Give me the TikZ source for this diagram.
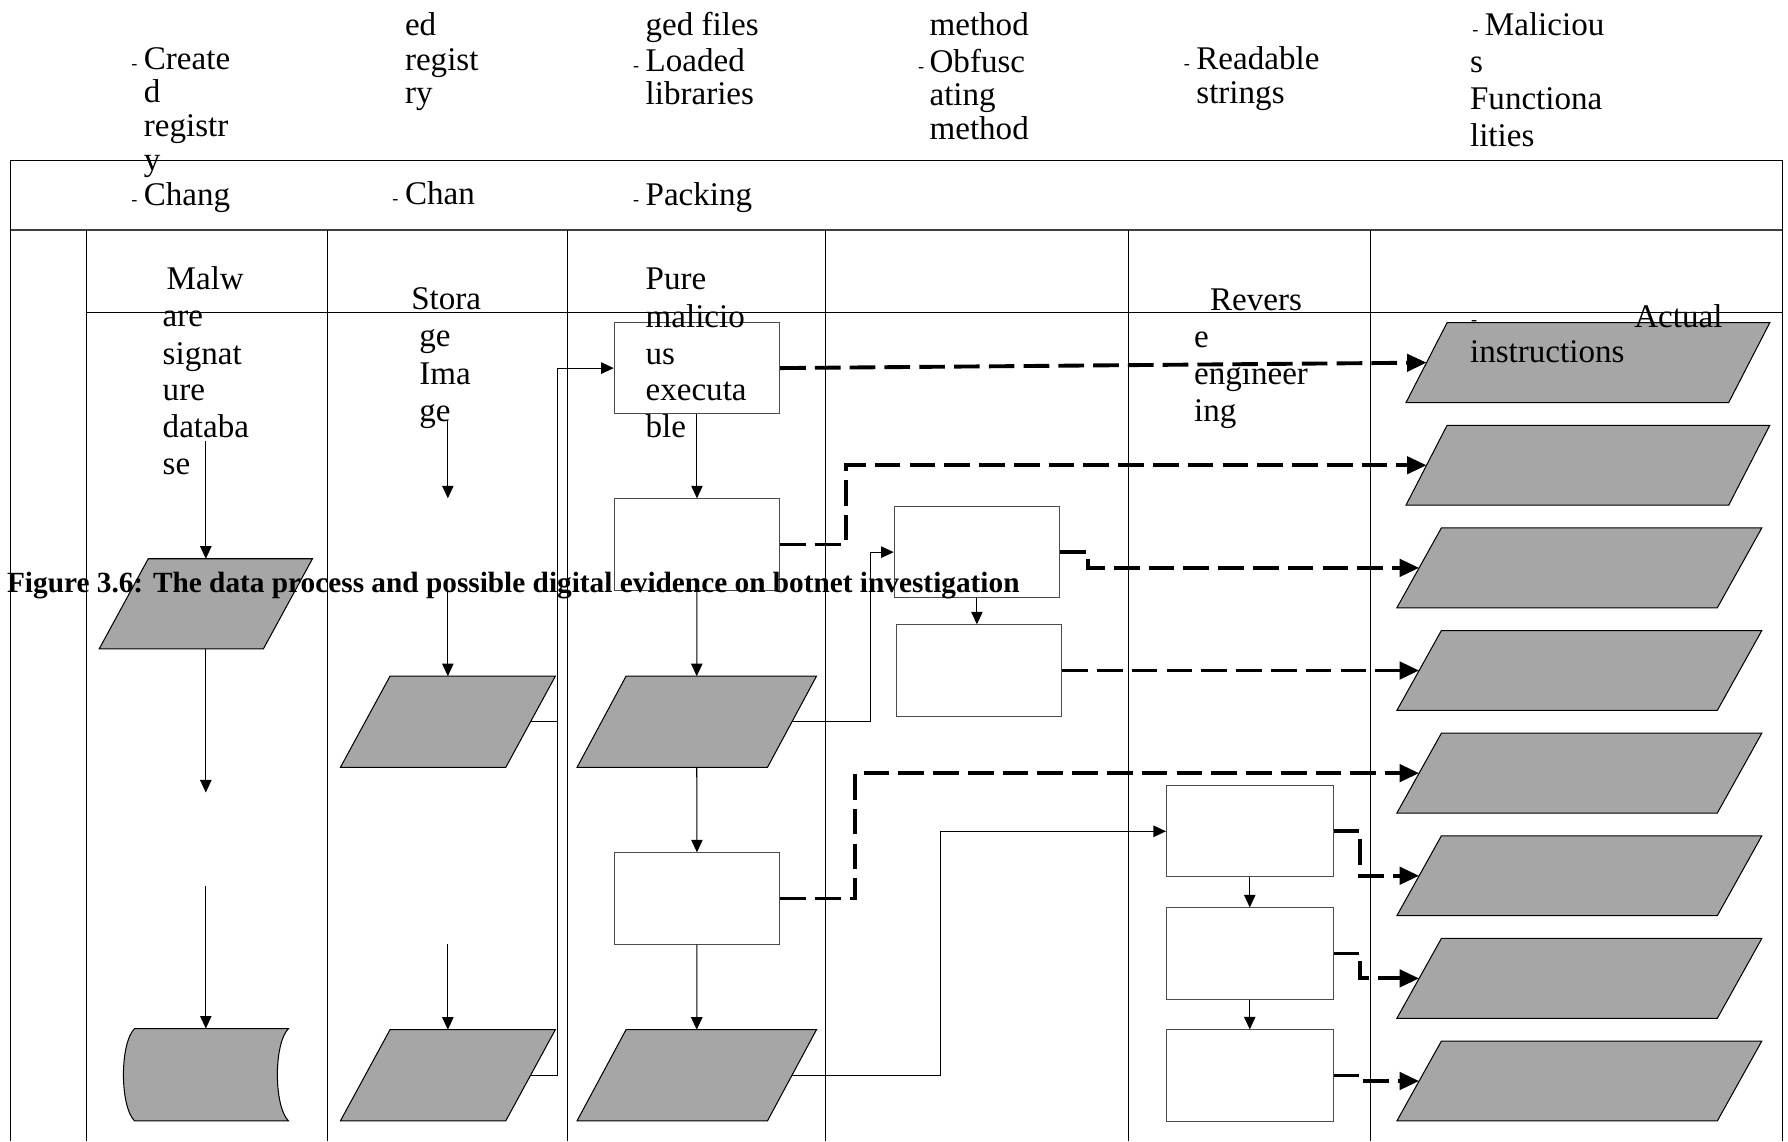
\documentclass[tikz,border=0pt]{standalone}
\usepackage{fontspec}
\setmainfont{Liberation Serif}
\usetikzlibrary{arrows.meta}
\newcommand\drawpara[6]{% name, x top-left, y top, width, slant offset, height
  \filldraw[parafill] (#2,#3) -- ++(#4,0) -- ++(-#5,#6) -- ++(-#4,0) -- cycle;
  \coordinate (#1-w) at ({#2-#5/2},{#3+#6/2});
  \coordinate (#1-e) at ({#2+#4-#5/2},{#3+#6/2});
  \coordinate (#1-n) at ({#2+#4/2-#5/2},#3);
  \coordinate (#1-s) at ({#2+#4/2-#5/2},{#3+#6});
}
\begin{document}
\begin{tikzpicture}[x=1pt,y=-1pt,
  frame/.style={line width=0.9pt, draw=black},
  boxnode/.style={draw=black!70, line width=0.9pt, minimum width=145pt, minimum height=80pt, inner sep=0pt},
  parafill/.style={fill=black!35, draw=black, line width=0.9pt},
  conn/.style={line width=0.9pt, -{Triangle[length=11pt,width=10pt]}},
  plain/.style={line width=0.9pt},
  dsh/.style={line width=3.4pt, dash pattern=on 22.5pt off 8pt, -{Triangle[length=17pt,width=15pt]}},
  lbl/.style={anchor=base west, inner sep=0pt, yshift=-2.5pt, font=\fontsize{29}{32}\selectfont},
  blt/.style={anchor=base west, inner sep=0pt, yshift=-2.5pt, font=\fontsize{16}{16}\selectfont},
  captxt/.style={anchor=base west, inner sep=0pt, yshift=-1pt, font=\bfseries\fontsize{25.7}{28}\selectfont}]
\useasboundingbox (0,0) rectangle (1568,1001);

% frame and lanes
\draw[frame] (9,141) rectangle (1563,201);
\draw[line width=1.6pt, draw=black!75] (9,201.5) -- (1563,201.5);
\draw[frame] (9,201) -- (9,1001);
\draw[frame] (1563,201) -- (1563,1001);
\foreach \lx in {75.5,287.5,498,723.5,990,1202}
  \draw[frame] (\lx,202) -- (\lx,1001);
\draw[frame] (75.5,274) -- (1563,274);

% boxes
\node[boxnode] (b1) at (611.2,322.8) {};
\node[boxnode] (b2) at (611.2,477.5) {};
\node[boxnode] (b3) at (611.2,787.9) {};
\node[boxnode] (b4) at (856.7,484.2) {};
\node[boxnode] (b5) at (858.6,588) {};
\node[boxnode, minimum width=146pt] (re1) at (1096,729) {};
\node[boxnode, minimum width=146pt] (re2) at (1096,836.2) {};
\node[boxnode, minimum width=146pt] (re3) at (1096,943.2) {};

% parallelograms
\drawpara{pa}{130}{490}{144}{43}{79}
\drawpara{pb}{342}{593}{145}{43.5}{80}
\drawpara{pc}{342}{903}{145}{43.5}{80}
\drawpara{qa}{549}{593}{167}{43}{80}
\drawpara{qb}{549}{903}{167}{43}{80}
\drawpara{r1}{1269}{283}{283}{36}{70}
\drawpara{r2}{1269}{373}{283}{36}{70}
\drawpara{r3}{1264}{463}{281}{39}{70}
\drawpara{r4}{1264}{553}{281}{39}{70}
\drawpara{r5}{1264}{643}{281}{39}{70}
\drawpara{r6}{1264}{733}{281}{39}{70}
\drawpara{r7}{1264}{823}{281}{39}{70}
\drawpara{r8}{1264}{913}{281}{39}{70}

% stored data shape
\filldraw[parafill] (118,902) -- (253,902) .. controls (240,915) and (240,970) .. (253,983)
  -- (118,983) .. controls (105,970) and (105,915) .. (118,902) -- cycle;
\coordinate (sd-n) at (180.5,902);

% lane 1 arrows
\coordinate (a1) at (180.5,387);
\coordinate (a2) at (180.5,695);
\coordinate (a3) at (180.5,777);
\draw[conn] (a1) -- (pa-n);
\draw[conn] (pa-s) -- (a2);
\draw[conn] (a3) -- (sd-n);

% lane 2 arrows
\coordinate (c1) at (392.75,368);
\coordinate (c2) at (392.75,437);
\coordinate (c3) at (392.75,517);
\coordinate (c4) at (392.75,828);
\draw[conn] (c1) -- (c2);
\draw[conn] (c3) -- (pb-n);
\draw[conn] (c4) -- (pc-n);
\coordinate (j1) at (489,0);
\draw[plain] (pb-e) -- (pb-e -| j1);
\draw[conn] (pc-e) -- (pc-e -| j1) |- (b1.west);

% lane 3 arrows
\draw[conn] (b1.south) -- (b2.north);
\draw[conn] (b2.south) -- (qa-n);
\draw[conn] (qa-s) -- (b3.north);
\draw[conn] (b3.south) -- (qb-n);
\coordinate (j2) at (763,0);
\draw[conn] (qa-e) -| (b4.west -| j2) -- (b4.west);
\coordinate (j3) at (824.5,0);
\draw[conn] (qb-e) -| (re1.west -| j3) -- (re1.west);

% lane 4 and 5 arrows
\draw[conn] (b4.south) -- (b4.south |- b5.north);
\draw[conn] (re1.south) -- (re2.north);
\draw[conn] (re2.south) -- (re3.north);

% dashed evidence arrows
\coordinate (k2) at (741.6,0);
\coordinate (k3) at (954,0);
\coordinate (k5) at (750,0);
\coordinate (k6) at (1193,0);
\draw[dsh] (b1.east) -- (r1-w);
\draw[dsh] (b2.east) -| (r2-w -| k2) -- (r2-w);
\draw[dsh] (b4.east) -| (r3-w -| k3) -- (r3-w);
\draw[dsh] (b5.east) -- (r4-w);
\draw[dsh] (b3.east) -| (r5-w -| k5) -- (r5-w);
\draw[dsh] (re1.east) -| (r6-w -| k6) -- (r6-w);
\draw[dsh] (re2.east) -| (r7-w -| k6) -- (r7-w);
\draw[dsh] (re3.east) -| (r8-w -| k6) -- (r8-w);

% top labels
\node[blt] (t1b1) at (115,58.5) {-};
\node[lbl] (t1a) at (126,58.5) {Create};
\node[lbl] (t1b) at (126,87.7) {d};
\node[lbl] (t1c) at (126,117) {registr};
\node[lbl] (t1d) at (126,147) {y};
\node[blt] (t1b2) at (115,178) {-};
\node[lbl] (t1e) at (126,178) {Chang};

\node[lbl] (t2a) at (355,29) {ed};
\node[lbl] (t2b) at (355,59) {regist};
\node[lbl] (t2c) at (355,88) {ry};
\node[blt] (t2b1) at (344,177) {-};
\node[lbl] (t2d) at (355,177) {Chan};

\node[lbl] (t3a) at (566,29) {ged files};
\node[blt] (t3b1) at (555,60.5) {-};
\node[lbl] (t3b) at (566,60.5) {Loaded};
\node[lbl] (t3c) at (566,89) {libraries};
\node[blt] (t3b2) at (555,178) {-};
\node[lbl] (t3d) at (566,178) {Packing};

\node[lbl] (t4a) at (815,29) {method};
\node[blt] (t4b1) at (805,61) {-};
\node[lbl] (t4b) at (815,61) {Obfusc};
\node[lbl] (t4c) at (815,90) {ating};
\node[lbl] (t4d) at (815,120) {method};

\node[blt] (t5b1) at (1038,58.5) {-};
\node[lbl] (t5a) at (1049,58.5) {Readable};
\node[lbl] (t5b) at (1049,88) {strings};

\node[blt] (t6b1) at (1291,29) {-};
\node[lbl] (t6a) at (1302,29) {Maliciou};
\node[lbl] (t6b) at (1289,61) {s};
\node[lbl] (t6c) at (1289,93.5) {Functiona};
\node[lbl] (t6d) at (1289,125.7) {lities};

% lane labels
\node[lbl] (l1a) at (146,251.5) {Malw};
\node[lbl] (l1b) at (142.5,283.5) {are};
\node[lbl] (l1c) at (142.5,317) {signat};
\node[lbl] (l1d) at (142.5,349) {ure};
\node[lbl] (l1e) at (142.5,381.5) {databa};
\node[lbl] (l1f) at (142.5,413.6) {se};

\node[lbl] (l2a) at (360.5,269) {Stora};
\node[lbl] (l2b) at (367.5,301) {ge};
\node[lbl] (l2c) at (367.5,335) {Ima};
\node[lbl] (l2d) at (367.5,367) {ge};

\node[lbl] (l3a) at (566,251.5) {Pure};
\node[lbl] (l3b) at (566,285) {malicio};
\node[lbl] (l3c) at (566,317) {us};
\node[lbl] (l3d) at (566,349) {executa};
\node[lbl] (l3e) at (566,381.5) {ble};

\node[lbl] (l5a) at (1061,270) {Revers};
\node[lbl] (l5b) at (1047,302.6) {e};
\node[lbl] (l5c) at (1047,335) {engineer};
\node[lbl] (l5d) at (1047,367) {ing};

\node[blt] (l6b1) at (1290,283) {-};
\node[lbl] (l6a) at (1433,285) {Actual};
\node[lbl] (l6b) at (1289,315.7) {instructions};

% caption
\node[captxt] (caption) at (6,519) {Figure 3.6: The data process and possible digital evidence on botnet investigation};
\end{tikzpicture}
\end{document}
